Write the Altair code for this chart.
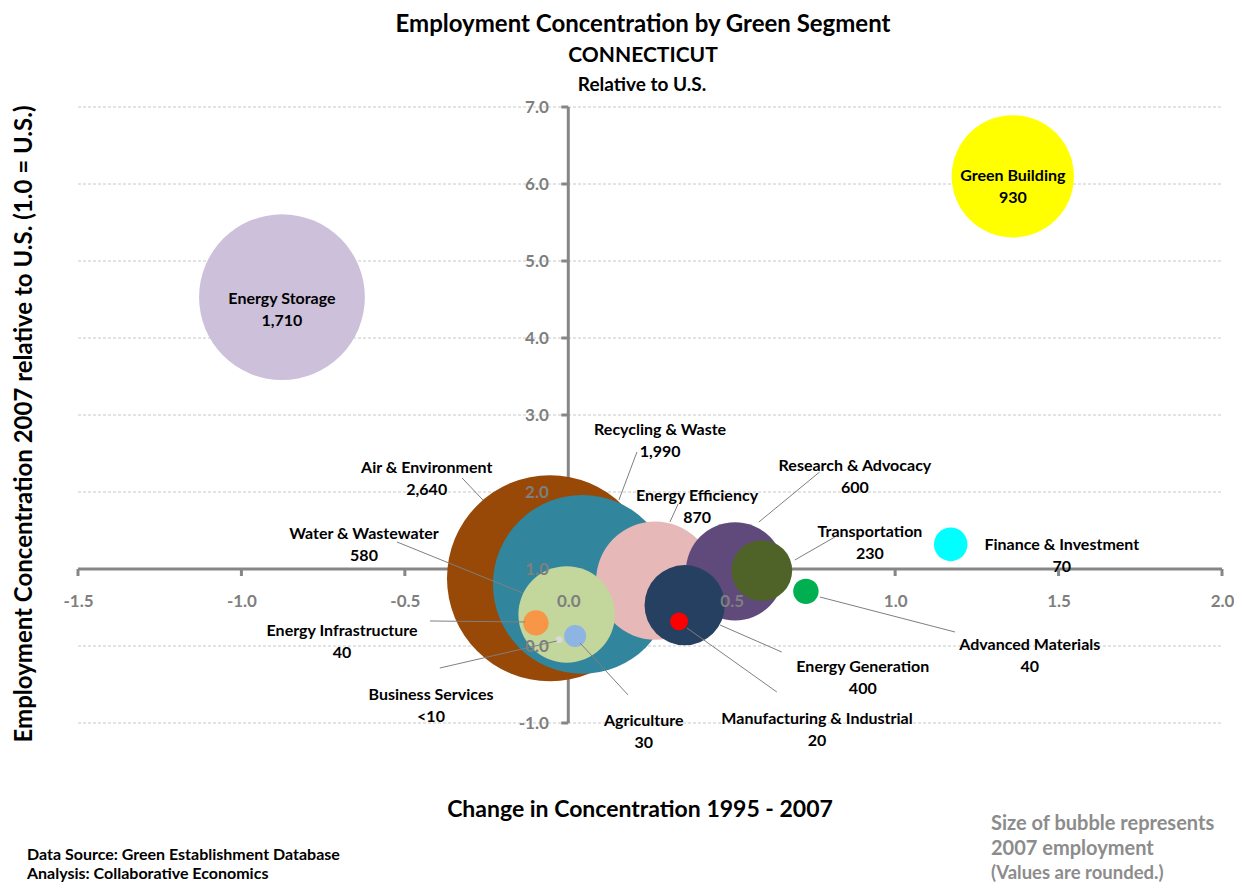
import altair as alt
import pandas as pd

# ---------------- data ----------------
segments = ["Air & Environment", "Recycling & Waste", "Energy Storage", "Green Building",
            "Energy Efficiency", "Research & Advocacy", "Water & Wastewater", "Energy Generation",
            "Transportation", "Finance & Investment", "Energy Infrastructure", "Advanced Materials",
            "Agriculture", "Manufacturing & Industrial", "Business Services"]
change = [-0.056, 0.043, -0.876, 1.360, 0.266, 0.510, -0.005, 0.356,
          0.592, 1.170, -0.099, 0.727, 0.021, 0.339, -0.028]
concentration = [0.88, 0.80, 4.53, 6.10, 0.85, 0.97, 0.41, 0.53,
                 0.98, 1.32, 0.30, 0.71, 0.13, 0.32, 0.08]
employment = [2640, 1990, 1710, 930, 870, 600, 580, 400, 230, 70, 40, 40, 30, 20, 3]
employment_text = ["2,640", "1,990", "1,710", "930", "870", "600", "580", "400",
                   "230", "70", "40", "40", "30", "20", "<10"]
colors = ["#984807", "#31859C", "#CCC0DA", "#FFFF00", "#E6B9B8", "#604A7B", "#C3D69B", "#254061",
          "#4F6228", "#00FFFF", "#F79646", "#00B050", "#8EB4E3", "#FF0000", "#D9D9D9"]

# label anchor (data units)
label_x = [-0.433, 0.281, -0.876, 1.360, 0.394, 0.877, -0.625, 0.901,
           0.923, 1.510, -0.692, 1.412, 0.231, 0.761, -0.420]
label_y = [2.314, 2.805, 4.506, 6.104, 1.948, 2.338, 1.451, -0.273,
           1.481, 1.312, 0.195, 0.013, -0.974, -0.948, -0.636]

# leader lines (data units): bubble end -> label end
leader_seg = ["Air & Environment", "Recycling & Waste", "Energy Efficiency", "Research & Advocacy",
              "Water & Wastewater", "Energy Generation", "Transportation", "Energy Infrastructure",
              "Advanced Materials", "Agriculture", "Manufacturing & Industrial", "Business Services"]
leader_x1 = [-0.261, 0.155, 0.311, 0.583, -0.139, 0.464, 0.693, -0.132, 0.770, 0.036, 0.363, -0.035]
leader_y1 = [1.896, 1.896, 1.610, 1.610, 0.688, 0.273, 1.117, 0.312, 0.636, 0.039, 0.234, 0.065]
leader_x2 = [-0.325, 0.210, 0.336, 0.769, -0.524, 0.653, 0.816, -0.423, 1.183, 0.183, 0.638, -0.393]
leader_y2 = [2.182, 2.519, 1.844, 2.260, 1.351, -0.078, 1.416, 0.325, 0.182, -0.636, -0.597, -0.286]

x_ticks = [-1.5, -1.0, -0.5, 0.0, 0.5, 1.0, 1.5, 2.0]
y_ticks = [-1.0, 0.0, 1.0, 2.0, 3.0, 4.0, 5.0, 6.0, 7.0]
x_domain = [-1.5, 2.0]
y_domain = [-1.0, 7.0]
x_cross = 0.0   # vertical axis position
y_cross = 1.0   # horizontal axis position (1.0 = U.S.)

# ---------------- frames ----------------
df = pd.DataFrame({
    "segment": segments, "change": change, "conc": concentration,
    "emp": employment, "label": [f"{s}\n{t}" for s, t in zip(segments, employment_text)],
    "lx": label_x, "ly": label_y,
}).sort_values("emp", ascending=False)

lead = pd.DataFrame({"segment": leader_seg, "x1": leader_x1, "y1": leader_y1,
                     "x2": leader_x2, "y2": leader_y2})
grid = pd.DataFrame({"y": [v for v in y_ticks if v != y_cross],
                     "xa": x_domain[0], "xb": x_domain[1]})
xt = pd.DataFrame({"x": x_ticks, "y": y_cross})
yt = pd.DataFrame({"y": y_ticks, "x": x_cross})
hline = pd.DataFrame({"xa": [x_domain[0]], "xb": [x_domain[1]], "y": [y_cross]})
vline = pd.DataFrame({"ya": [y_domain[0]], "yb": [y_domain[1]], "x": [x_cross]})
one = pd.DataFrame({"d": [0]})

W, H = 1144, 616
FONT = "Lato"
AXIS_COLOR = "#868686"
MAX_R = 103  # radius in px of the largest bubble

xscale = alt.Scale(domain=x_domain, nice=False, zero=False)
yscale = alt.Scale(domain=y_domain, nice=False, zero=False)
# pixel offsets that move the axes onto the crossing lines
y_axis_offset = -W * (x_cross - x_domain[0]) / (x_domain[1] - x_domain[0])
x_axis_offset = -H * (y_cross - y_domain[0]) / (y_domain[1] - y_domain[0])

label_expr = "replace(format(datum.value, '.1f'), '\u2212', '-')"
xaxis = alt.Axis(values=x_ticks, labelExpr=label_expr, domain=False, ticks=False, tickSize=0,
                 grid=False, labelPadding=24, offset=x_axis_offset, zindex=1, labelFont=FONT,
                 labelFontWeight="bold", labelFontSize=17, labelColor="#7F7F7F",
                 labelFlush=False, labelOverlap=False, title=None)
yaxis = alt.Axis(values=y_ticks, labelExpr=label_expr, domain=False, ticks=False, tickSize=0,
                 grid=False, labelPadding=20, offset=y_axis_offset, zindex=1, labelFont=FONT,
                 labelFontWeight="bold", labelFontSize=17, labelColor="#7F7F7F",
                 labelOverlap=False, title=None)


def X(f):
    return alt.X(f, type="quantitative", scale=xscale, axis=xaxis)


def Y(f):
    return alt.Y(f, type="quantitative", scale=yscale, axis=yaxis)


grid_l = alt.Chart(grid).mark_rule(color="#C8C8C8", strokeWidth=1, strokeDash=[3, 2]).encode(
    x=X("xa"), x2="xb", y=Y("y"))
hline_l = alt.Chart(hline).mark_rule(color=AXIS_COLOR, strokeWidth=3).encode(
    x=X("xa"), x2="xb", y=Y("y"))
vline_l = alt.Chart(vline).mark_rule(color=AXIS_COLOR, strokeWidth=3).encode(
    y=Y("ya"), y2="yb", x=X("x"))
xt_l = alt.Chart(xt).mark_rule(color=AXIS_COLOR, strokeWidth=3, y2Offset=7).encode(
    x=X("x"), y=Y("y"), y2="y")
yt_l = alt.Chart(yt).mark_rule(color=AXIS_COLOR, strokeWidth=3, x2Offset=-7).encode(
    y=Y("y"), x=X("x"), x2="x")

# Vega circle size = (2r)^2
bubbles = alt.Chart(df).mark_circle(opacity=1, strokeWidth=0).encode(
    x=X("change"), y=Y("conc"),
    size=alt.Size("emp:Q", scale=alt.Scale(type="linear", domain=[0, 2640],
                                           range=[0, 4 * MAX_R * MAX_R]), legend=None),
    color=alt.Color("segment:N", scale=alt.Scale(domain=segments, range=colors), legend=None),
)

leaders = alt.Chart(lead).mark_rule(color="#7F7F7F", strokeWidth=1).encode(
    x=X("x1"), y=Y("y1"), x2="x2", y2="y2")

labels = alt.Chart(df).mark_text(font=FONT, fontWeight="bold", fontSize=16, lineBreak="\n",
                                 lineHeight=22, align="center", baseline="middle",
                                 color="#000000").encode(
    x=X("lx"), y=Y("ly"), text="label:N")


def note(text, x, y, size, color="#000000", align="center", angle=0, weight="bold"):
    return alt.Chart(one).mark_text(font=FONT, fontWeight=weight, fontSize=size, color=color,
                                    align=align, baseline="middle", angle=angle).encode(
        x=alt.value(x), y=alt.value(y), text=alt.value(text))


notes = [
    note("Employment Concentration  by Green Segment", 565, -82, 24),
    note("CONNECTICUT", 565, -51, 21),
    note("Relative to U.S.", 564, -22, 19),
    note("Change in Concentration 1995 - 2007", 562, 703, 23),
    note("Employment Concentration 2007 relative to U.S. (1.0 = U.S.)", -53, 317, 24, angle=270),
    note("Data Source:  Green Establishment  Database", -51, 748, 16, align="left"),
    note("Analysis:  Collaborative  Economics", -51, 767, 16, align="left"),
    note("Size of bubble represents", 913, 717, 20, color="#8C8C8C", align="left"),
    note("2007 employment", 913, 742, 20, color="#8C8C8C", align="left"),
    note("(Values are rounded.)", 913, 766, 18.5, color="#8C8C8C", align="left"),
]

chart = alt.layer(grid_l, hline_l, vline_l, xt_l, yt_l, bubbles, leaders, labels, *notes).properties(
    width=W, height=H,
    autosize=alt.AutoSizeParams(type="none"),
    padding={"left": 70, "top": 99, "right": 12, "bottom": 163},
    background="white",
).configure_view(stroke=None)

chart.save("out.html", embed_options={"renderer": "svg", "actions": False})
